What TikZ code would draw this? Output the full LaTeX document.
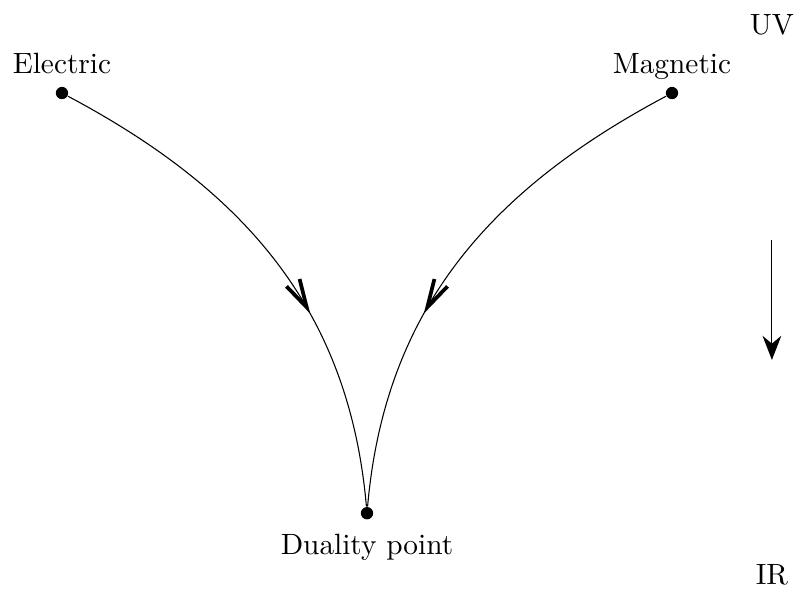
\documentclass[tikz,border=0pt]{standalone}
\usetikzlibrary{arrows.meta,decorations.markings,positioning}

\begin{document}
\begin{tikzpicture}[
    font=\fontsize{10.95}{13.6}\selectfont,
    >=Stealth,
    dot/.style={circle, fill=black, inner sep=0pt, minimum size=4.6pt},
    lab/.style={text height=1.6ex, text depth=0.25ex},
    flow/.style={postaction={decorate}, decoration={markings,
      mark=at position #1 with {\arrow{Straight Barb[length=10.5pt, width=5.6pt, line width=1.4pt]}}}}
  ]
  \useasboundingbox (-0.813,-6.675) rectangle (9.626,1.22);

  % fixed points
  \node[dot] (el) at (0,0) {};
  \node[dot] (mag) at (8,0) {};
  \node[dot] (dual) at (4,-5.51) {};
  \node[lab, above=0pt of el] (ellab) {Electric};
  \node[lab, above=0pt of mag] (maglab) {Magnetic};
  \node[lab, below=2.5pt of dual] (duallab) {Duality point};

  % flows
  \draw[flow=0.62] (el) to[out=-28, in=95] (dual);
  \draw[flow=0.62] (mag) to[out=-152, in=85] (dual);

  % energy scale
  \node (uv) at (9.31,0.89) {UV};
  \node (ir) at (9.31,-6.32) {IR};
  \coordinate (top) at (9.31,-1.93);
  \coordinate (bot) at (9.31,-3.5);
  \draw[-{Stealth[length=9pt, width=7pt]}] (top) -- (bot);
\end{tikzpicture}
\end{document}
